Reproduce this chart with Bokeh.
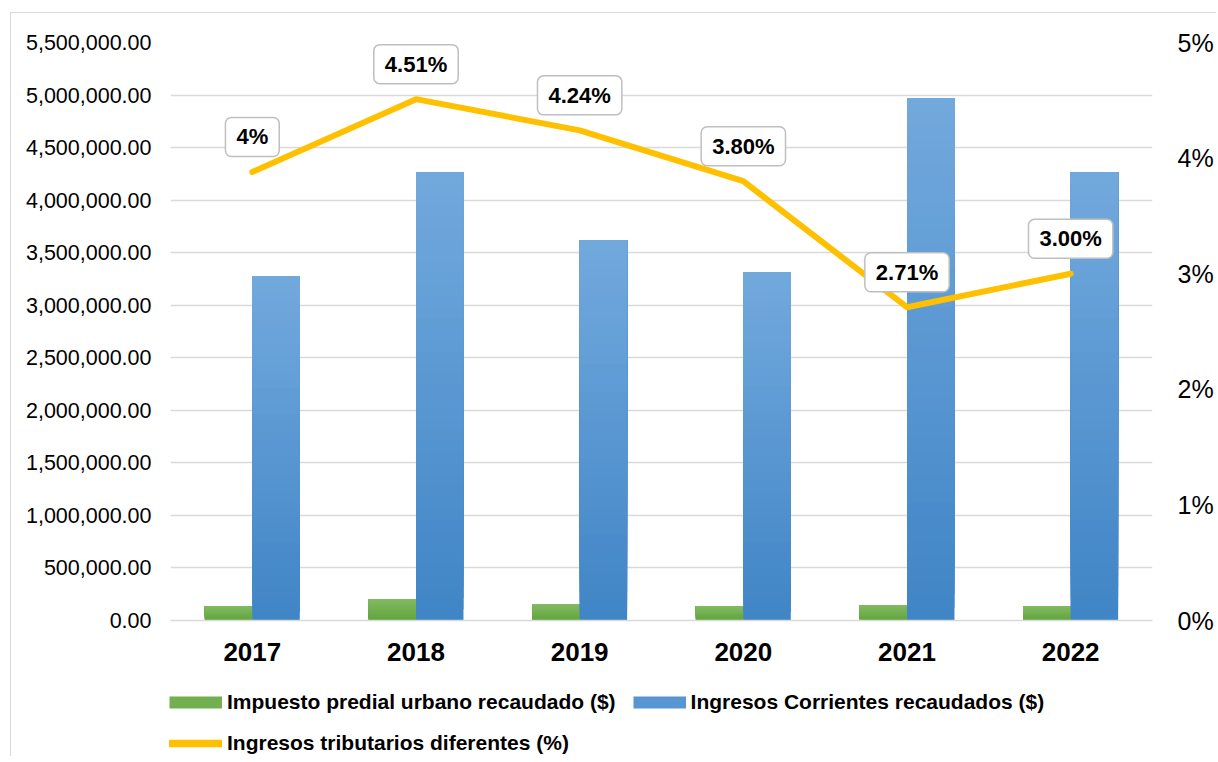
from bokeh.plotting import figure
from bokeh.layouts import column
from bokeh.models import (Range1d, LinearAxis, FixedTicker, NumeralTickFormatter,
                          PrintfTickFormatter, Legend, LegendItem,
                          ColumnDataSource, FactorRange)
from bokeh.core.properties import value
from bokeh.transform import dodge
from bokeh.embed import file_html
from bokeh.resources import INLINE

# ---------------- data ----------------
years = ["2017", "2018", "2019", "2020", "2021", "2022"]
impuesto_predial = [133000, 200000, 152000, 133000, 143000, 133000]
ingresos_corrientes = [3273000, 4262000, 3616000, 3311000, 4967000, 4262000]
ingresos_tributarios_pct = [3.88, 4.51, 4.24, 3.80, 2.71, 3.00]
pct_labels = ["4%", "4.51%", "4.24%", "3.80%", "2.71%", "3.00%"]
left_ticks = [0, 500000, 1000000, 1500000, 2000000, 2500000, 3000000,
              3500000, 4000000, 4500000, 5000000, 5500000]
right_ticks = [0, 1, 2, 3, 4, 5]
series_names = ["Impuesto predial urbano recaudado ($)",
                "Ingresos Corrientes recaudados ($)",
                "Ingresos tributarios diferentes (%)"]

FONT = "Liberation Sans"
GREEN_TOP, GREEN_BOT = (0x82, 0xBA, 0x62), (0x62, 0xA4, 0x3C)
BLUE_TOP, BLUE_BOT = (0x72, 0xA9, 0xDD), (0x40, 0x85, 0xC6)
YELLOW = "#FFC000"
GRID = "#D9D9D9"


def hexc(c):
    return "#%02x%02x%02x" % tuple(int(round(v)) for v in c)


def gradient_source(values, top_rgb, bot_rgb, n=40):
    xs, bottoms, tops, colors = [], [], [], []
    for yr, v in zip(years, values):
        for i in range(n):
            t = i / (n - 1)
            col = [b + (tp - b) * t for b, tp in zip(bot_rgb, top_rgb)]
            xs.append(yr)
            bottoms.append(v * i / n)
            tops.append(v)
            colors.append(hexc(col))
    return ColumnDataSource(dict(x=xs, bottom=bottoms, top=tops, color=colors))


p = figure(x_range=FactorRange(*years), y_range=Range1d(0, 5500000),
           frame_width=982, frame_height=578,
           min_border_left=159, min_border_right=64,
           min_border_top=29, min_border_bottom=70,
           output_backend="svg", toolbar_location=None)
p.outline_line_color = None
p.background_fill_color = "white"
p.border_fill_color = "white"
p.extra_y_ranges = {"pct": Range1d(0, 5)}

# bars (gradient emulated by stacked slices)
src_g = gradient_source(impuesto_predial, GREEN_TOP, GREEN_BOT)
src_b = gradient_source(ingresos_corrientes, BLUE_TOP, BLUE_BOT)
p.vbar(x=dodge("x", -0.145, range=p.x_range), bottom="bottom", top="top",
       width=0.29, fill_color="color", line_color=None, source=src_g)
p.vbar(x=dodge("x", 0.145, range=p.x_range), bottom="bottom", top="top",
       width=0.29, fill_color="color", line_color=None, source=src_b)

# line
p.line(x=years, y=ingresos_tributarios_pct, y_range_name="pct",
       line_color=YELLOW, line_width=6, line_join="round", line_cap="round")

# data labels
lab_src = ColumnDataSource(dict(x=years, y=ingresos_tributarios_pct, t=pct_labels))
p.text(x="x", y="y", text="t", source=lab_src, y_range_name="pct", y_offset=-35,
       text_align="center", text_baseline="middle",
       text_font=value(FONT), text_font_style="bold",
       text_font_size="22px", text_color="#000000",
       background_fill_color="white",
       border_line_color="#BFBFBF", border_line_width=1.5,
       border_radius=6,
       padding=dict(left=11, right=11, top=7, bottom=7))

# axes
p.yaxis.ticker = FixedTicker(ticks=left_ticks)
p.yaxis.formatter = NumeralTickFormatter(format="0,0.00")
p.yaxis.major_label_text_font = FONT
p.yaxis.major_label_text_font_size = "21.5px"
p.yaxis.major_label_text_color = "#000000"
p.yaxis.major_label_standoff = 19
p.yaxis.axis_line_color = None
p.yaxis.major_tick_line_color = None
p.yaxis.minor_tick_line_color = None
p.yaxis.major_tick_out = 0
p.yaxis.major_tick_in = 0

ax_r = LinearAxis(y_range_name="pct", ticker=FixedTicker(ticks=right_ticks),
                  formatter=PrintfTickFormatter(format="%d%%"))
ax_r.major_label_text_font = FONT
ax_r.major_label_text_font_size = "25px"
ax_r.major_label_text_color = "#000000"
ax_r.major_label_standoff = 25
ax_r.axis_line_color = None
ax_r.major_tick_line_color = None
ax_r.minor_tick_line_color = None
ax_r.major_tick_out = 0
ax_r.major_tick_in = 0
p.add_layout(ax_r, "right")

p.xaxis.major_label_text_font = FONT
p.xaxis.major_label_text_font_style = "bold"
p.xaxis.major_label_text_font_size = "26px"
p.xaxis.major_label_text_color = "#000000"
p.xaxis.major_label_standoff = 22
p.xaxis.axis_line_color = GRID
p.xaxis.axis_line_width = 1.5
p.xaxis.major_tick_line_color = None
p.xaxis.major_tick_out = 0
p.xaxis.major_tick_in = 0

p.xgrid.grid_line_color = None
p.ygrid.ticker = FixedTicker(ticks=left_ticks)
p.ygrid.grid_line_color = GRID
p.ygrid.grid_line_width = 1.5

# ---------------- legend strip (separate figure below the chart) ----------------
leg = figure(x_range=FactorRange(*years), y_range=Range1d(0, 1),
             frame_width=1205, frame_height=66,
             min_border_left=0, min_border_right=0,
             min_border_top=0, min_border_bottom=0,
             x_axis_location=None, y_axis_location=None,
             output_backend="svg", toolbar_location=None)
leg.outline_line_color = None
leg.grid.visible = False
leg.background_fill_color = "white"
leg.border_fill_color = "white"

nan_y = [float("nan")] * len(years)
g_leg = leg.line(x=years, y=nan_y, line_color="#72AF4F", line_width=12, line_cap="butt")
b_leg = leg.line(x=years, y=nan_y, line_color="#5796D2", line_width=12, line_cap="butt")
y_leg = leg.line(x=years, y=nan_y, line_color=YELLOW, line_width=7.5, line_cap="round")
legend = Legend(items=[LegendItem(label=series_names[0], renderers=[g_leg]),
                       LegendItem(label=series_names[1], renderers=[b_leg]),
                       LegendItem(label=series_names[2], renderers=[y_leg])],
                location=(158, 1), orientation="horizontal", ncols=2,
                glyph_width=53, glyph_height=24, label_height=24,
                label_standoff=5, spacing=17, padding=0, margin=0,
                border_line_color=None, background_fill_alpha=0,
                label_text_font=FONT, label_text_font_style="bold",
                label_text_font_size="21px", label_text_color="#000000")
leg.add_layout(legend)

layout = column(p, leg, spacing=0)
layout.margin = (12, 0, 0, 10)
layout.styles = {"border-left": "1px solid #D9D9D9", "border-top": "1px solid #D9D9D9"}

open("out.html", "w").write(file_html(layout, INLINE))
